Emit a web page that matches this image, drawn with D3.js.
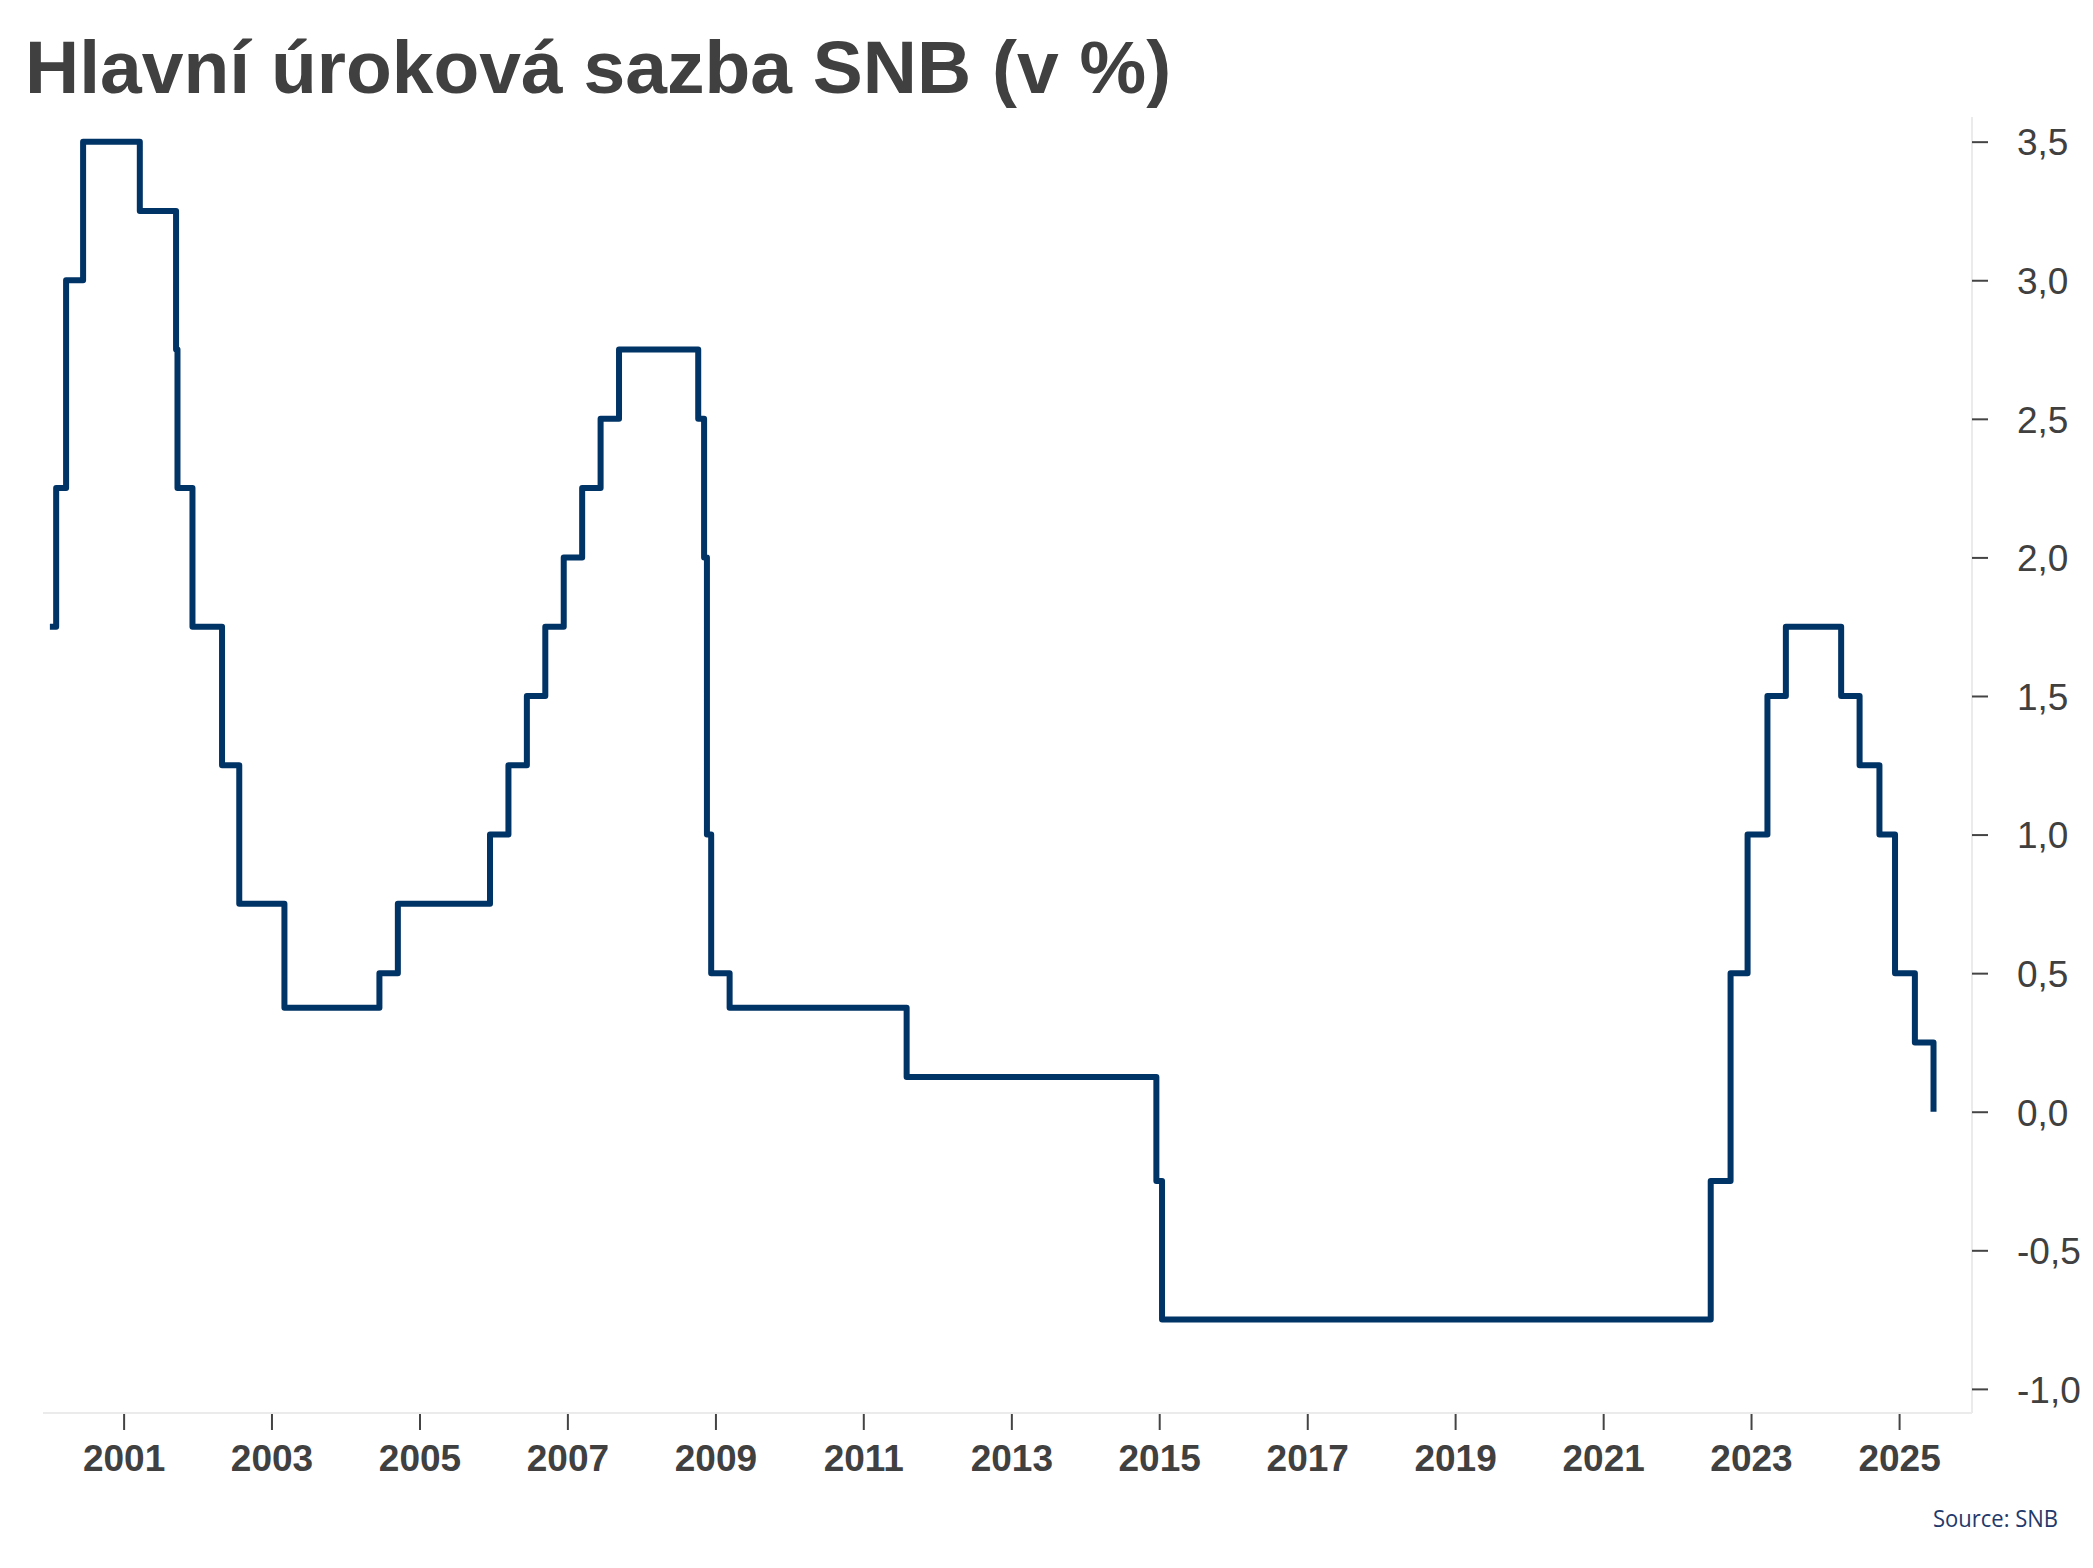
<!DOCTYPE html>
<html>
<head>
<meta charset="utf-8">
<script src="https://cdn.jsdelivr.net/npm/d3@7"></script>
<style>
  html, body { margin: 0; padding: 0; background: #ffffff; }
  svg { display: block; }
</style>
</head>
<body>
<svg id="chart" width="2093" height="1568"></svg>
<script>
// ---- Data (SNB main rate, % ; change dates) ----
const changeDates = [
  "2000-01-03", "2000-02-03", "2000-03-23", "2000-06-15",
  "2001-03-22", "2001-09-17", "2001-09-24", "2001-12-07",
  "2002-05-02", "2002-07-26", "2003-03-06",
  "2004-06-17", "2004-09-16", "2005-12-15",
  "2006-03-16", "2006-06-15", "2006-09-14", "2006-12-14",
  "2007-03-15", "2007-06-14", "2007-09-13",
  "2008-10-08", "2008-11-06", "2008-11-20", "2008-12-11",
  "2009-03-12", "2011-08-03", "2014-12-18", "2015-01-15",
  "2022-06-16", "2022-09-22", "2022-12-15", "2023-03-23", "2023-06-22",
  "2024-03-21", "2024-06-20", "2024-09-26", "2024-12-12",
  "2025-03-20", "2025-06-20"
];
const rates = [
  1.75, 2.25, 3.0, 3.5,
  3.25, 2.75, 2.25, 1.75,
  1.25, 0.75, 0.375,
  0.5, 0.75, 1.0,
  1.25, 1.5, 1.75, 2.0,
  2.25, 2.5, 2.75,
  2.5, 2.0, 1.0, 0.5,
  0.375, 0.125, -0.25, -0.75,
  -0.25, 0.5, 1.0, 1.5, 1.75,
  1.5, 1.25, 1.0, 0.5,
  0.25, 0.0
];
const xTickYears = [2001, 2003, 2005, 2007, 2009, 2011, 2013, 2015, 2017, 2019, 2021, 2023, 2025];
const yTickValues = [-1.0, -0.5, 0.0, 0.5, 1.0, 1.5, 2.0, 2.5, 3.0, 3.5];
const titleText = "Hlavní úroková sazba SNB (v %)";
const sourceText = "Source: SNB";

// ---- Setup ----
const parse = d3.timeParse("%Y-%m-%d");
const data = changeDates.map((d, i) => ({ date: parse(d), value: rates[i] }));

const svg = d3.select("#chart");
const plot = { left: 43, right: 1972, top: 117, bottom: 1413 };

const x = d3.scaleTime()
  .domain([new Date(1999, 10, 30), new Date(2025, 11, 27)])
  .range([plot.left, plot.right]);

const y = d3.scaleLinear()
  .domain([-1.087, 3.589])
  .range([plot.bottom, plot.top]);

const locale = d3.formatLocale({ decimal: ",", thousands: " ", grouping: [3], currency: ["", " Kč"], minus: "-" });
const fmt = locale.format(".1f");

// ---- Title ----
svg.append("text")
  .attr("x", 25)
  .attr("y", 93)
  .attr("font-family", "'Liberation Sans', Arial, sans-serif")
  .attr("font-weight", "bold")
  .attr("font-size", 75)
  .attr("fill", "#404040")
  .text(titleText);

// ---- Axis frame lines ----
svg.append("line")
  .attr("x1", plot.left).attr("x2", plot.right)
  .attr("y1", plot.bottom).attr("y2", plot.bottom)
  .attr("stroke", "#ebebeb").attr("stroke-width", 2);
svg.append("line")
  .attr("x1", plot.right).attr("x2", plot.right)
  .attr("y1", plot.top).attr("y2", plot.bottom)
  .attr("stroke", "#ebebeb").attr("stroke-width", 2);

// ---- X axis ----
const xAxis = d3.axisBottom(x)
  .tickValues(xTickYears.map(yr => new Date(yr, 0, 1)))
  .tickFormat(d3.timeFormat("%Y"))
  .tickSize(16)
  .tickSizeOuter(0);

const gx = svg.append("g")
  .attr("transform", `translate(0,${plot.bottom + 1})`)
  .call(xAxis);
gx.select(".domain").remove();
gx.selectAll(".tick line").attr("stroke", "#444444").attr("stroke-width", 2);
gx.selectAll(".tick text")
  .attr("y", 57).attr("dy", 0)
  .attr("font-family", "'Liberation Sans', Arial, sans-serif")
  .attr("font-weight", "bold")
  .attr("font-size", 37)
  .attr("fill", "#404040");

// ---- Y axis (right) ----
const yAxis = d3.axisRight(y)
  .tickValues(yTickValues)
  .tickFormat(d => fmt(d))
  .tickSize(16)
  .tickPadding(29)
  .tickSizeOuter(0);

const gy = svg.append("g")
  .attr("transform", `translate(${plot.right},0)`)
  .call(yAxis);
gy.select(".domain").remove();
gy.selectAll(".tick line").attr("stroke", "#444444").attr("stroke-width", 2);
gy.selectAll(".tick text")
  .attr("dy", "0.36em")
  .attr("font-family", "'Liberation Sans', Arial, sans-serif")
  .attr("font-size", 37)
  .attr("fill", "#404040");

// ---- Line ----
const line = d3.line()
  .x(d => x(d.date))
  .y(d => y(d.value))
  .curve(d3.curveStepAfter);

svg.append("path")
  .datum(data)
  .attr("d", line)
  .attr("fill", "none")
  .attr("stroke", "#003366")
  .attr("stroke-width", 6)
  .attr("stroke-linejoin", "round");

// ---- Source ----
svg.append("text")
  .attr("x", 2058)
  .attr("y", 1527)
  .attr("text-anchor", "end")
  .attr("font-family", "'Open Sans', 'Noto Sans', sans-serif")
  .attr("font-size", 24)
  .attr("textLength", 125)
  .attr("lengthAdjust", "spacingAndGlyphs")
  .attr("fill", "#1f3a6b")
  .text(sourceText);
</script>
</body>
</html>
